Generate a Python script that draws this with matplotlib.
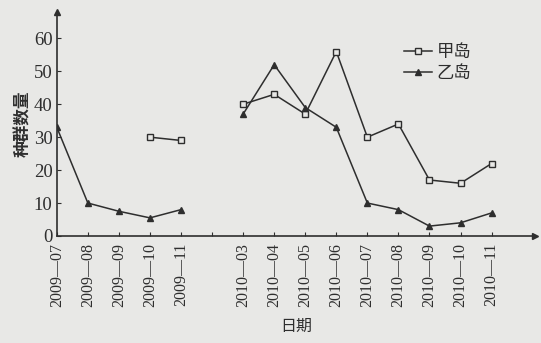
import numpy as np
import matplotlib.pyplot as plt

plt.rcParams['font.family'] = ['Liberation Serif', 'Noto Sans CJK SC', 'DejaVu Sans']

# 日期（空串为 2009-12 ~ 2010-02 之间的断开位置）
dates = ['2009—07', '2009—08', '2009—09', '2009—10', '2009—11', '',
         '2010—03', '2010—04', '2010—05', '2010—06', '2010—07', '2010—08',
         '2010—09', '2010—10', '2010—11']
jia = [np.nan, np.nan, np.nan, 30, 29, np.nan,
       40, 43, 37, 56, 30, 34, 17, 16, 22]
yi = [33, 10, 7.5, 5.5, 8, np.nan,
      37, 52, 39, 33, 10, 8, 3, 4, 7]

x = np.arange(len(dates))
ink = '#2e2e2e'
bg = '#e8e8e6'

fig = plt.figure(figsize=(5.41, 3.43), dpi=100, facecolor=bg)
ax = fig.add_axes([0.105, 0.312, 0.884, 0.653], facecolor=bg)

ax.plot(x, jia, color=ink, lw=1.1, marker='s', ms=5, mfc=bg, mec=ink, mew=1.0, label='甲岛')
ax.plot(x, yi, color=ink, lw=1.1, marker='^', ms=4.5, mfc=ink, mec=ink, label='乙岛')

ax.set_xlim(0, 15.4)
ax.set_ylim(0, 68)
ax.set_xticks(x)
ax.set_xticklabels(dates, rotation=90, fontsize=11.5, color=ink)
ax.set_yticks(range(0, 61, 10))
ax.tick_params(axis='y', labelsize=13.5, colors=ink, direction='in', length=3, pad=3)
ax.tick_params(axis='x', colors=ink, direction='in', length=3, pad=5)

for s in ['top', 'right']:
    ax.spines[s].set_visible(False)
for s in ['left', 'bottom']:
    ax.spines[s].set_color(ink)
    ax.spines[s].set_linewidth(1.2)

# 坐标轴箭头
ax.plot(1, 0, '>', color=ink, ms=5, transform=ax.transAxes, clip_on=False)
ax.plot(0, 1, '^', color=ink, ms=5, transform=ax.transAxes, clip_on=False)

ax.set_ylabel('种群数量', fontsize=12, color=ink, fontweight='bold', labelpad=1,
              family=['Noto Sans CJK SC'])
ax.set_xlabel('日期', fontsize=11.5, color=ink, labelpad=8, family=['Noto Sans CJK SC'])

leg = ax.legend(loc='upper right', bbox_to_anchor=(0.9, 0.93), frameon=False,
                handlelength=1.6, handletextpad=0.3, labelspacing=0.15,
                prop={'family': ['Noto Sans CJK SC'], 'size': 12.5})
for t in leg.get_texts():
    t.set_color(ink)

fig.savefig('out.png', dpi=100, facecolor=bg)
